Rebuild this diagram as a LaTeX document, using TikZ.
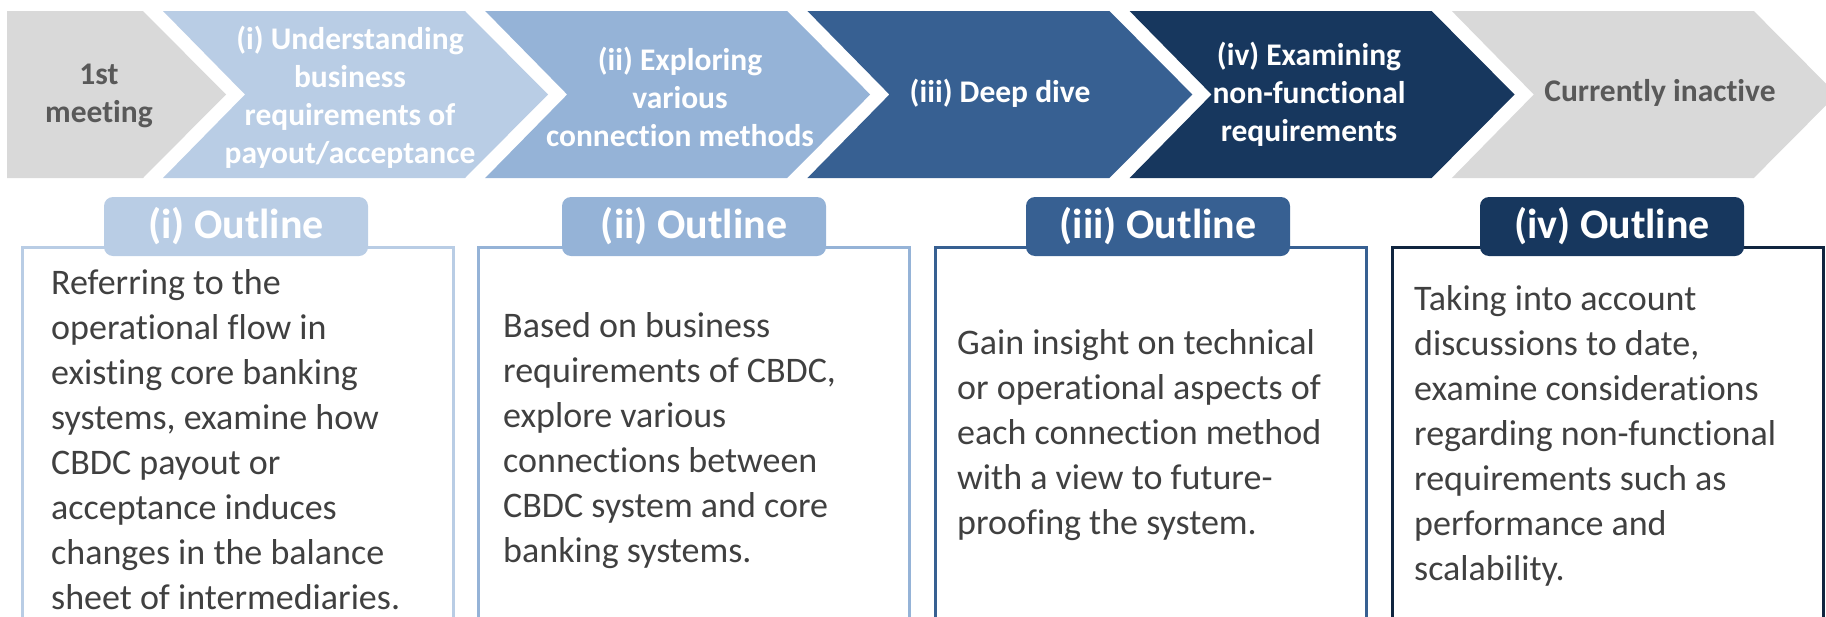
\documentclass[tikz,border=0pt]{standalone}
\usepackage{fontspec}
\setmainfont{Carlito}[Ligatures=NoCommon]
\definecolor{paleblue}{HTML}{B9CDE5}
\definecolor{midblue}{HTML}{95B3D7}
\definecolor{deepblue}{HTML}{376092}
\definecolor{navyblue}{HTML}{17375E}
\definecolor{navyline}{HTML}{10253F}
\definecolor{idlegray}{HTML}{D9D9D9}
\definecolor{idletext}{HTML}{595959}
\definecolor{bodytext}{HTML}{404040}
\tikzset{
    phaselabel/.style={align=center,inner sep=0pt,text=white,
        font=\fontsize{31.5}{38}\selectfont\bfseries},
    outlinetab/.style={fill=#1,rounded corners=9pt,minimum width=264pt,
        minimum height=59pt,inner sep=0pt,text=white,
        font=\fontsize{42}{50}\selectfont\bfseries},
    outlinebody/.style={anchor=west,align=left,inner sep=0pt,text=bodytext,
        font=\fontsize{36}{45}\selectfont},
}
\begin{document}
\begin{tikzpicture}[x=1pt,y=-1pt]
    \useasboundingbox (0,0) rectangle (1826,616);
    \clip (0,0) rectangle (1826,616);

    % phase chevrons
    \fill[idlegray] (7,11) -- (143,11) -- (226,94.5) -- (143,178) -- (7,178) -- cycle;
    \foreach \k/\col in {0/paleblue,1/midblue,2/deepblue,3/navyblue,4/idlegray}{
        \pgfmathsetmacro{\xa}{163+322.2*\k}
        \fill[\col] (\xa,11) -- ++(302,0) -- ++(83,83.5) -- ++(-83,83.5)
            -- ++(-302,0) -- ++(82,-83.5) -- cycle;
    }

    \node[phaselabel,text=idletext] (lbl0) at (99,96) {1st\\meeting};
    \node[phaselabel] (lbl1) at (350,97) {(i) Understanding\\business\\requirements of\\payout/acceptance};
    \node[phaselabel] (lbl2) at (680,97) {(ii) Exploring\\various\\connection methods};
    \node[phaselabel] (lbl3) at (1000,93) {(iii) Deep dive};
    \node[phaselabel] (lbl4) at (1309,94) {(iv) Examining\\non-functional\\requirements};
    \node[phaselabel,text=idletext] (lbl5) at (1660,93) {Currently inactive};

    % outline boxes with their tabs
    \foreach \k/\col/\bcol/\tx in {1/paleblue/paleblue/236,2/midblue/midblue/694,
                                  3/deepblue/deepblue/1158,4/navyblue/navyline/1612}{
        \pgfmathsetmacro{\xb}{22+456.7*(\k-1)}
        \draw[\bcol,line width=3pt] (\xb,247) rectangle ++(431,400);
        \node[outlinetab=\col] (tab\k) at (\tx,226.5) {(\romannumeral\k) Outline};
    }

    \node[outlinebody] (body1) at (51,440) {Referring to the\\operational flow in\\existing core banking\\systems, examine how\\CBDC payout or\\acceptance induces\\changes in the balance\\sheet of intermediaries.};
    \node[outlinebody] (body2) at (503,441) {Based on business\\requirements of CBDC,\\explore various\\connections between\\CBDC system and core\\banking systems.};
    \node[outlinebody] (body3) at (957,435) {Gain insight on technical\\or operational aspects of\\each connection method\\with a view to future-\\proofing the system.};
    \node[outlinebody] (body4) at (1414,436) {Taking into account\\discussions to date,\\examine considerations\\regarding non-functional\\requirements such as\\performance and\\scalability.};
\end{tikzpicture}
\end{document}
